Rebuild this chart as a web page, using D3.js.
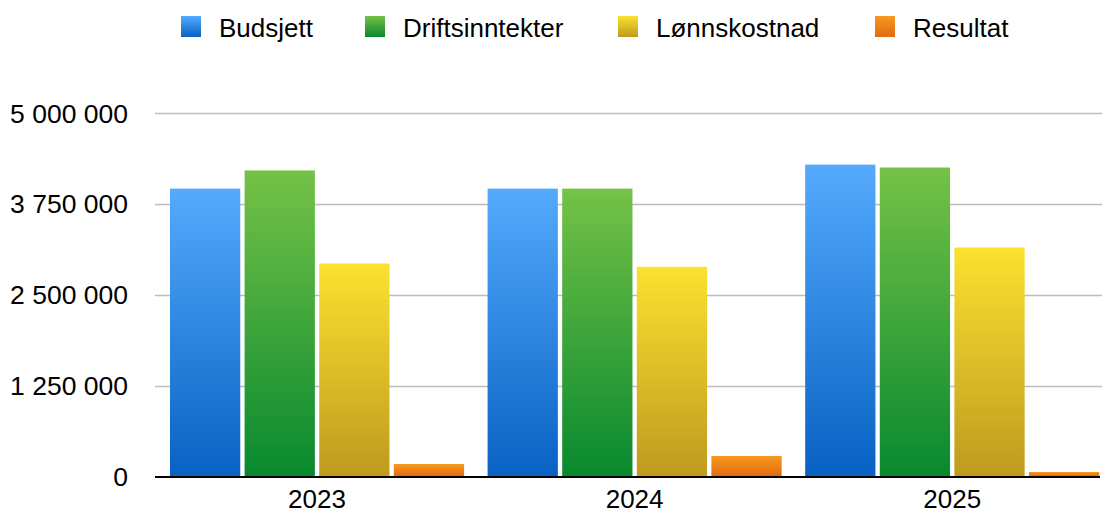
<!DOCTYPE html>
<html><head><meta charset="utf-8">
<script src="https://cdn.jsdelivr.net/npm/d3@7/dist/d3.min.js"></script>
<style>body{margin:0;background:#fff}svg{display:block}text{font-family:"Liberation Sans",Arial,Helvetica,sans-serif;fill:#000}</style>
</head><body><svg id="c" width="1102" height="514"></svg>
<script>
const years = ["2023", "2024", "2025"];
const seriesNames = ["Budsjett", "Driftsinntekter", "Lønnskostnad", "Resultat"];
const budsjett = [3960000, 3960000, 4290000];
const driftsinntekter = [4210000, 3960000, 4250000];
const lonnskostnad = [2930000, 2885000, 3150000];
const resultat = [172000, 282000, 62000];
const yTicks = [0, 1250000, 2500000, 3750000, 5000000];

const seriesValues = [budsjett, driftsinntekter, lonnskostnad, resultat];
const gradients = [["#55aafd", "#0862c3"], ["#75c247", "#08892f"], ["#fbe130", "#bf9a1f"], ["#f79a1f", "#e06a10"]];

const svg = d3.select("#c");
const defs = svg.append("defs");
gradients.forEach((g, i) => {
  const lg = defs.append("linearGradient").attr("id", "g" + i).attr("x1", 0).attr("y1", 0).attr("x2", 0).attr("y2", 1);
  lg.append("stop").attr("offset", "0%").attr("stop-color", g[0]);
  lg.append("stop").attr("offset", "100%").attr("stop-color", g[1]);
});

const y = d3.scaleLinear().domain([0, 5000000]).range([476.5, 113]);
const x0 = d3.scaleBand().domain(years).range([158.25, 1111]).paddingInner(0.074).paddingOuter(0.037);
const x1 = d3.scaleBand().domain(seriesNames).range([0, x0.bandwidth()]).paddingInner(0.058);

const fmt = v => d3.format(",")(v).replace(/,/g, " ");

// gridlines
svg.append("g").selectAll("line").data(yTicks.filter(d => d > 0)).join("line")
  .attr("x1", 155).attr("x2", 1102).attr("y1", d => Math.round(y(d)) + 0.5).attr("y2", d => Math.round(y(d)) + 0.5)
  .attr("stroke", "#bdbdbd").attr("stroke-width", 1.3);

// y labels
svg.append("g").selectAll("text").data(yTicks).join("text")
  .attr("x", 128).attr("y", d => y(d) + 9.5).attr("text-anchor", "end")
  .attr("font-size", 26.5).text(d => fmt(d));

// bars
const data = [];
years.forEach((yr, i) => seriesNames.forEach((s, j) => data.push({ yr, s, j, v: seriesValues[j][i] })));
svg.append("g").selectAll("rect").data(data).join("rect")
  .attr("x", d => x0(d.yr) + x1(d.s)).attr("width", x1.bandwidth())
  .attr("y", d => y(d.v)).attr("height", d => y(0) - y(d.v))
  .attr("fill", d => `url(#g${d.j})`);

// zero axis
svg.append("line").attr("x1", 155).attr("x2", 1100).attr("y1", y(0) + 0.5).attr("y2", y(0) + 0.5)
  .attr("stroke", "#000").attr("stroke-width", 2);

// x labels
svg.append("g").selectAll("text").data(years).join("text")
  .attr("x", d => x0(d) + x0.bandwidth() / 2).attr("y", 508).attr("text-anchor", "middle")
  .attr("font-size", 26).text(d => d);

// legend
const legX = [181, 365, 618, 875];
const leg = svg.append("g").selectAll("g").data(seriesNames).join("g")
  .attr("transform", (d, i) => `translate(${legX[i]},0)`);
leg.append("rect").attr("x", 0).attr("y", 16).attr("width", 20).attr("height", 21).attr("fill", (d, i) => `url(#g${i})`);
leg.append("text").attr("x", 38).attr("y", 37).attr("font-size", 26).text(d => d);
</script></body></html>
